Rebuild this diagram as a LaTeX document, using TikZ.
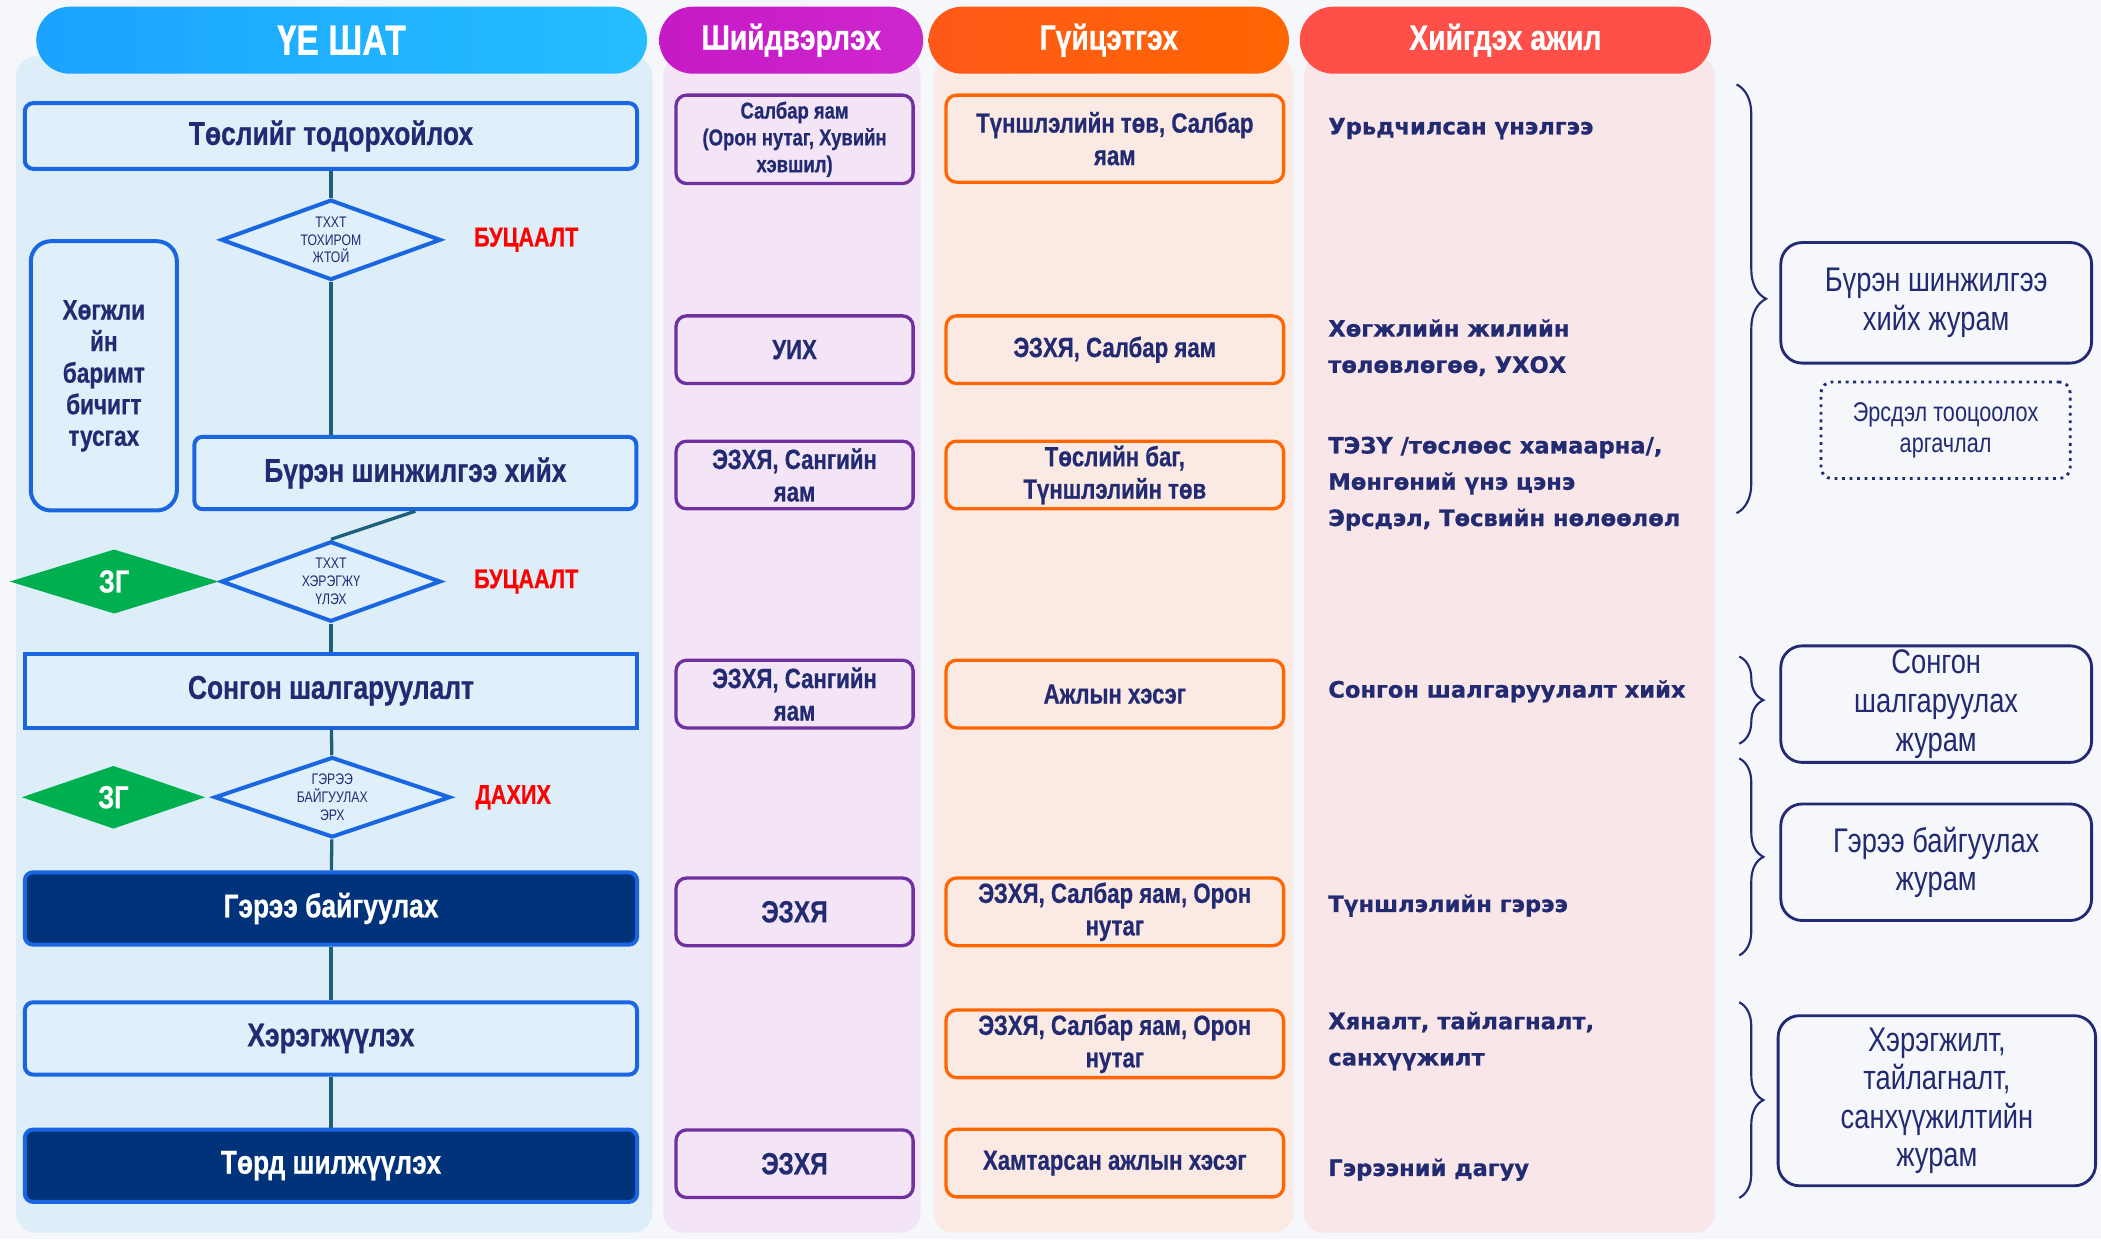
\documentclass[tikz,border=0pt]{standalone}
\usepackage{fontspec}
\setmainfont{Liberation Sans}
\newfontfamily\cond[FakeStretch=0.8,BoldFeatures={FakeBold=0.6}]{Liberation Sans}
\newfontfamily\wide[BoldFeatures={FakeBold=0.8}]{DejaVu Sans}
\usetikzlibrary{positioning,shapes.geometric,decorations.pathreplacing}
\definecolor{navy}{HTML}{222A72}
\definecolor{pagebg}{HTML}{F5F7FB}
\definecolor{lane1}{HTML}{DDEEF9}
\definecolor{lane2}{HTML}{F3E5F6}
\definecolor{lane3}{HTML}{FBEAE4}
\definecolor{lane4}{HTML}{F9E6E9}
\definecolor{boxblue}{HTML}{1A66E0}
\definecolor{boxfill}{HTML}{E0F0FB}
\definecolor{darkbox}{HTML}{00337A}
\definecolor{linkteal}{HTML}{1F6079}
\definecolor{zgreen}{HTML}{00B050}
\definecolor{purp}{HTML}{7030A0}
\definecolor{orng}{HTML}{FF6600}
\tikzset{
box/.style={draw=boxblue,line width=1.7pt,rounded corners=3.5pt,fill=boxfill,text=navy,font=\cond\bfseries\fontsize{14}{16}\selectfont,minimum width=9.14cm,minimum height=1.08cm,inner sep=0pt},
darkstep/.style={box,fill=darkbox,text=white},
check/.style={diamond,aspect=2.73,draw=boxblue,line width=1.7pt,fill=boxfill,text=navy,font=\cond\fontsize{6.5}{7.6}\selectfont,align=center,inner sep=0pt,minimum width=3.28cm,minimum height=1.2cm},
gem/.style={diamond,aspect=3.2,fill=zgreen,text=white,font=\cond\bfseries\fontsize{13.5}{15}\selectfont,inner sep=0pt,minimum width=3.12cm,minimum height=0.96cm},
back/.style={text=red,font=\cond\bfseries\fontsize{11.5}{13}\selectfont,inner sep=0pt},
link/.style={draw=linkteal,line width=1.4pt},
head/.style={rounded corners=0.5cm,minimum height=1cm,text=white,font=\cond\bfseries\fontsize{15}{17}\selectfont,inner sep=0pt},
who/.style={draw=purp,line width=1.4pt,rounded corners=4.5pt,fill=lane2,text=navy,font=\cond\bfseries\fontsize{11.8}{13.8}\selectfont,align=center,minimum width=3.54cm,minimum height=1.01cm,inner sep=0pt},
doer/.style={who,draw=orng,fill=lane3,minimum width=5.04cm},
task/.style={anchor=west,text=navy,font=\wide\bfseries\fontsize{9.6}{15.4}\selectfont,align=left,inner sep=0pt},
rule/.style={draw=navy,line width=1.2pt,rounded corners=0.32cm,fill=pagebg,text=navy,font=\cond\fontsize{14.5}{16.4}\selectfont,align=center,minimum width=4.64cm,minimum height=1.74cm,inner sep=0pt},
curly/.style={draw=navy,line width=0.9pt,decorate,decoration={brace,amplitude=0.44cm}}
}
\begin{document}
\begin{tikzpicture}[x=0.02cm,y=-0.02cm]
\useasboundingbox (0,0) rectangle (1568,925);
\fill[pagebg] (0,0) rectangle (1568,925);
\fill[lane1,rounded corners=0.3cm] (12,42) rectangle (487,920);
\fill[lane2,rounded corners=0.3cm] (495,42) rectangle (687,920);
\fill[lane3,rounded corners=0.3cm] (697,42) rectangle (965,920);
\fill[lane4,rounded corners=0.3cm] (973,42) rectangle (1280,920);
\node[head,minimum width=9.12cm,left color=cyan!60!blue!90,middle color=blue!70!cyan!90!black,right color=cyan!70!blue!85,font=\cond\bfseries\fontsize{18}{20}\selectfont] (h1) at (255,30) {ҮЕ ШАТ};
\node[head,minimum width=3.94cm,left color=magenta!50!violet!90,middle color=purp,right color=magenta!55!violet!85] (h2) at (590.5,30) {Шийдвэрлэх};
\node[head,minimum width=5.38cm,left color=orange!55!red!90,middle color=red!72!white!95!orange,right color=orng] (h3) at (827.5,30) {Гүйцэтгэх};
\node[head,minimum width=6.14cm,fill=red!70!white!95!orange] (h4) at (1123.5,30) {Хийгдэх ажил};
\node[box,minimum height=0.98cm] (p1) at (247,101.5) {Төслийг тодорхойлох};
\node[check] (d1) at (247,179) {ТХХТ\\ТОХИРОМ\\ЖТОЙ};
\node[back,right=0.46cm of d1] (b1) {БУЦААЛТ};
\node[box,rounded corners=0.3cm,minimum width=2.18cm,minimum height=4.02cm,font=\cond\bfseries\fontsize{12}{13.4}\selectfont,align=center] (k1) at (77.5,280.5) {Хөгжли\\йн\\баримт\\бичигт\\тусгах};
\node[box,minimum width=6.6cm] (p2) at (310,353) {Бүрэн шинжилгээ хийх};
\node[check] (d2) at (247,434) {ТХХТ\\ХЭРЭГЖҮ\\ҮЛЭХ};
\node[gem,left=0pt of d2] (z1) {ЗГ};
\node[back,right=0.46cm of d2] (b2) {БУЦААЛТ};
\node[box,rounded corners=0pt,minimum height=1.1cm] (p3) at (247,515.5) {Сонгон шалгаруулалт};
\node[check,aspect=2.93,minimum width=3.52cm] (d3) at (248,595) {ГЭРЭЭ\\БАЙГУУЛАХ\\ЭРХ};
\node[gem,aspect=2.9,minimum width=2.74cm,minimum height=0.94cm,left=0.1cm of d3] (z2) {ЗГ};
\node[back,right=0.34cm of d3] (b3) {ДАХИХ};
\node[darkstep] (p4) at (247,678) {Гэрээ байгуулах};
\node[box] (p5) at (247,775) {Хэрэгжүүлэх};
\node[darkstep] (p6) at (247,870) {Төрд шилжүүлэх};
\draw[link] (p1) -- (d1);
\draw[link] (d1) -- (d1 |- p2.north);
\draw[link] (p2.south) -- (d2.north);
\draw[link] (d2) -- (p3);
\draw[link] (p3) -- (d3);
\draw[link] (d3) -- (p4);
\draw[link] (p4) -- (p5);
\draw[link] (p5) -- (p6);
\node[who,minimum height=1.32cm,font=\cond\bfseries\fontsize{9.8}{11.4}\selectfont] (u1) at (593,104) {Салбар яам\\(Орон нутаг, Хувийн\\хэвшил)};
\node[who] (u2) at (593,261) {УИХ};
\node[who] (u3) at (593,354.5) {ЭЗХЯ, Сангийн\\яам};
\node[who] (u4) at (593,518) {ЭЗХЯ, Сангийн\\яам};
\node[who,font=\cond\bfseries\fontsize{13}{15}\selectfont] (u5) at (593,680.5) {ЭЗХЯ};
\node[who,font=\cond\bfseries\fontsize{13}{15}\selectfont] (u6) at (593,868.5) {ЭЗХЯ};
\node[doer,minimum height=1.3cm] (v1) at (832,103.5) {Түншлэлийн төв, Салбар\\яам};
\node[doer] (v2) at (832,261) {ЭЗХЯ, Салбар яам};
\node[doer] (v3) at (832,354.5) {Төслийн баг,\\Түншлэлийн төв};
\node[doer] (v4) at (832,518) {Ажлын хэсэг};
\node[doer] (v5) at (832,680.5) {ЭЗХЯ, Салбар яам, Орон\\нутаг};
\node[doer] (v6) at (832,779) {ЭЗХЯ, Салбар яам, Орон\\нутаг};
\node[doer] (v7) at (832,868) {Хамтарсан ажлын хэсэг};
\node[task] (w1) at (991,96) {Урьдчилсан үнэлгээ};
\node[task] (w2) at (991,259.5) {Хөгжлийн жилийн\\төлөвлөгөө, УХОХ};
\node[task] (w3) at (991,361) {ТЭЗҮ /төслөөс хамаарна/,\\Мөнгөний үнэ цэнэ\\Эрсдэл, Төсвийн нөлөөлөл};
\node[task] (w4) at (991,516) {Сонгон шалгаруулалт хийх};
\node[task] (w5) at (991,676) {Түншлэлийн гэрээ};
\node[task] (w6) at (991,777) {Хяналт, тайлагналт,\\санхүүжилт};
\node[task] (w7) at (991,873) {Гэрээний дагуу};
\draw[curly] (1296,63) -- (1296,383);
\draw[curly,decoration={amplitude=0.36cm}] (1298,490) -- (1298,555);
\draw[curly,decoration={amplitude=0.36cm}] (1298,566) -- (1298,713);
\draw[curly,decoration={amplitude=0.36cm}] (1298,748) -- (1298,894);
\node[rule,minimum height=1.8cm] (j1) at (1445,226) {Бүрэн шинжилгээ\\хийх журам};
\node[rule,dotted,rounded corners=0.16cm,minimum width=3.72cm,minimum height=1.44cm,font=\cond\fontsize{11.5}{13.2}\selectfont,below=0.24cm of j1,xshift=0.14cm] (e1) {Эрсдэл тооцоолох\\аргачлал};
\node[rule] (j2) at (1445,525.5) {Сонгон\\шалгаруулах\\журам};
\node[rule] (j3) at (1445,643.5) {Гэрээ байгуулах\\журам};
\node[rule,minimum width=4.74cm,minimum height=2.54cm] (j4) at (1445.5,821.5) {Хэрэгжилт,\\тайлагналт,\\санхүүжилтийн\\журам};
\end{tikzpicture}
\end{document}
